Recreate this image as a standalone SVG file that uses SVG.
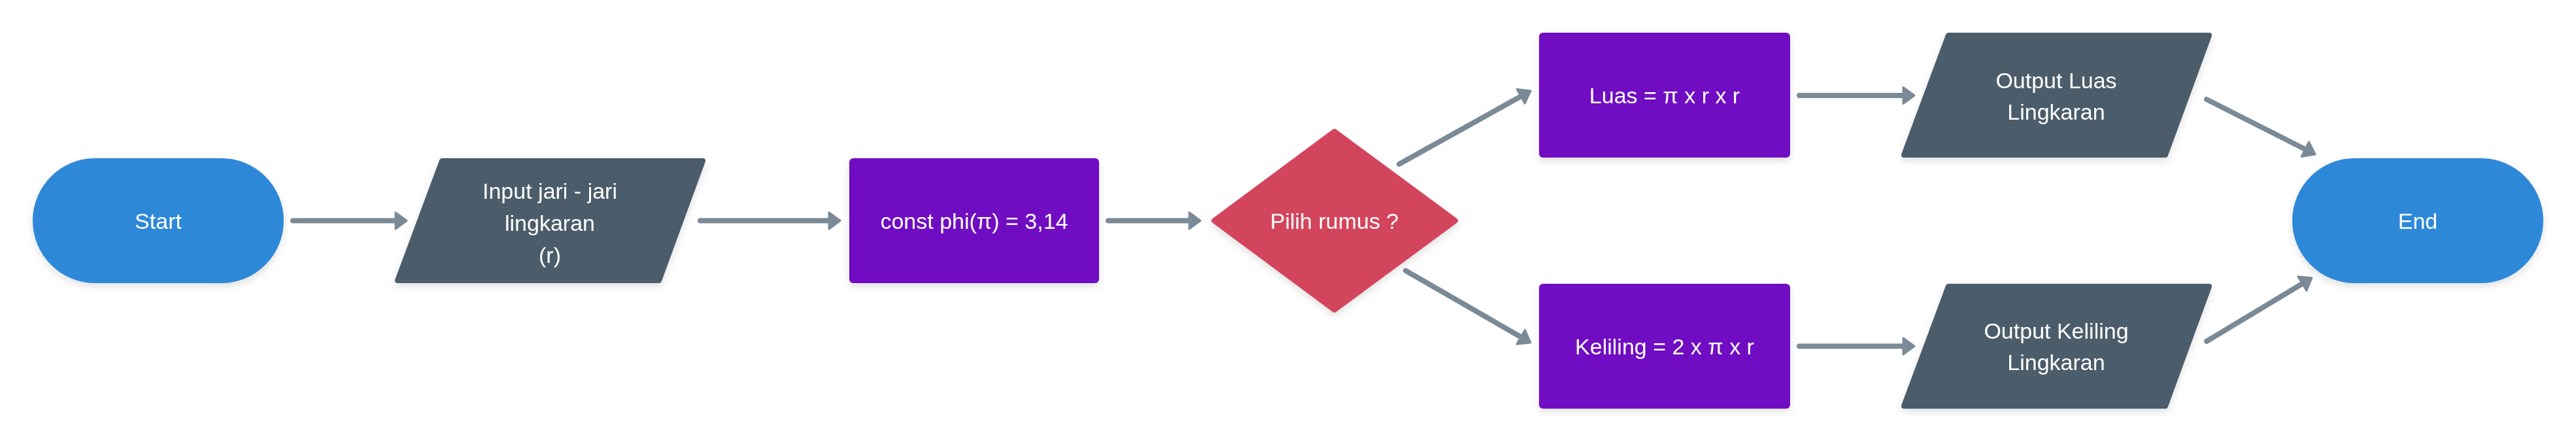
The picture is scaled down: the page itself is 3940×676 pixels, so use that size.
<svg xmlns="http://www.w3.org/2000/svg" width="3940" height="676" viewBox="0 0 3940 676">
<style>
.t{font-family:"Liberation Sans",Arial,sans-serif;font-size:34px;fill:#ffffff;text-anchor:middle}
.term{fill:#2e88d8}
.io{fill:#4b5c6b;stroke:#4b5c6b;stroke-width:8;stroke-linejoin:round}
.proc{fill:#7010c2}
.dec{fill:#d3455b;stroke:#d3455b;stroke-width:8;stroke-linejoin:round}
.c{stroke:#7b8a97;stroke-width:8;stroke-linecap:round;fill:none}
</style>
<defs>
<filter id="sh" x="-20%" y="-20%" width="140%" height="150%">
<feDropShadow dx="0" dy="5" stdDeviation="6" flood-color="#000000" flood-opacity="0.12"/>
</filter>
<marker id="ah" markerUnits="userSpaceOnUse" markerWidth="30" markerHeight="34" refX="10" refY="15" orient="auto" viewBox="0 0 30 34">
<path d="M3,2.5 L20,15 L3,27.5 z" fill="#7b8a97" stroke="#7b8a97" stroke-width="3" stroke-linejoin="round"/>
</marker>
</defs>
<rect width="3940" height="676" fill="#ffffff"/>
<g id="connectors">
<line class="c" x1="448" y1="337.5" x2="612" y2="337.5" marker-end="url(#ah)"/>
<line class="c" x1="1071" y1="337.5" x2="1275" y2="337.5" marker-end="url(#ah)"/>
<line class="c" x1="1695" y1="337.5" x2="1826" y2="337.5" marker-end="url(#ah)"/>
<line class="c" x1="2140" y1="251" x2="2332.3" y2="143.9" marker-end="url(#ah)"/>
<line class="c" x1="2150" y1="414" x2="2332.3" y2="519" marker-end="url(#ah)"/>
<line class="c" x1="2752" y1="146" x2="2918" y2="146" marker-end="url(#ah)"/>
<line class="c" x1="2752" y1="529.5" x2="2918" y2="529.5" marker-end="url(#ah)"/>
<line class="c" x1="3375" y1="152" x2="3532.1" y2="231.5" marker-end="url(#ah)"/>
<line class="c" x1="3375" y1="522" x2="3527.4" y2="430.2" marker-end="url(#ah)"/>
</g>
<g id="start" filter="url(#sh)">
<rect class="term" x="50" y="242" width="384" height="191" rx="95.5"/>
<text class="t" x="242" y="350">Start</text>
</g>
<g id="input" filter="url(#sh)">
<polygon class="io" points="676,246 1075,246 1008,429 608,429"/>
<text class="t" x="841" y="304">Input jari - jari</text>
<text class="t" x="841" y="353">lingkaran</text>
<text class="t" x="841" y="402">(r)</text>
</g>
<g id="const" filter="url(#sh)">
<rect class="proc" x="1299" y="242" width="382" height="191" rx="6"/>
<text class="t" x="1490" y="350">const phi(π) = 3,14</text>
</g>
<g id="decision" filter="url(#sh)">
<polygon class="dec" points="2041,201 2226,337.5 2041,474 1857,337.5"/>
<text class="t" x="2041" y="350">Pilih rumus ?</text>
</g>
<g id="luas" filter="url(#sh)">
<rect class="proc" x="2354" y="50" width="384" height="191" rx="6"/>
<text class="t" x="2546" y="158">Luas = π x r x r</text>
</g>
<g id="keliling" filter="url(#sh)">
<rect class="proc" x="2354" y="434" width="384" height="191" rx="6"/>
<text class="t" x="2546" y="542">Keliling = 2 x π x r</text>
</g>
<g id="outluas" filter="url(#sh)">
<polygon class="io" points="2980,54 3379,54 3312,237 2912,237"/>
<text class="t" x="3145" y="135">Output Luas</text>
<text class="t" x="3145" y="183">Lingkaran</text>
</g>
<g id="outkeliling" filter="url(#sh)">
<polygon class="io" points="2980,438 3379,438 3312,621 2912,621"/>
<text class="t" x="3145" y="518">Output Keliling</text>
<text class="t" x="3145" y="566">Lingkaran</text>
</g>
<g id="end" filter="url(#sh)">
<rect class="term" x="3506" y="242" width="384" height="191" rx="95.5"/>
<text class="t" x="3698" y="350">End</text>
</g>
</svg>
